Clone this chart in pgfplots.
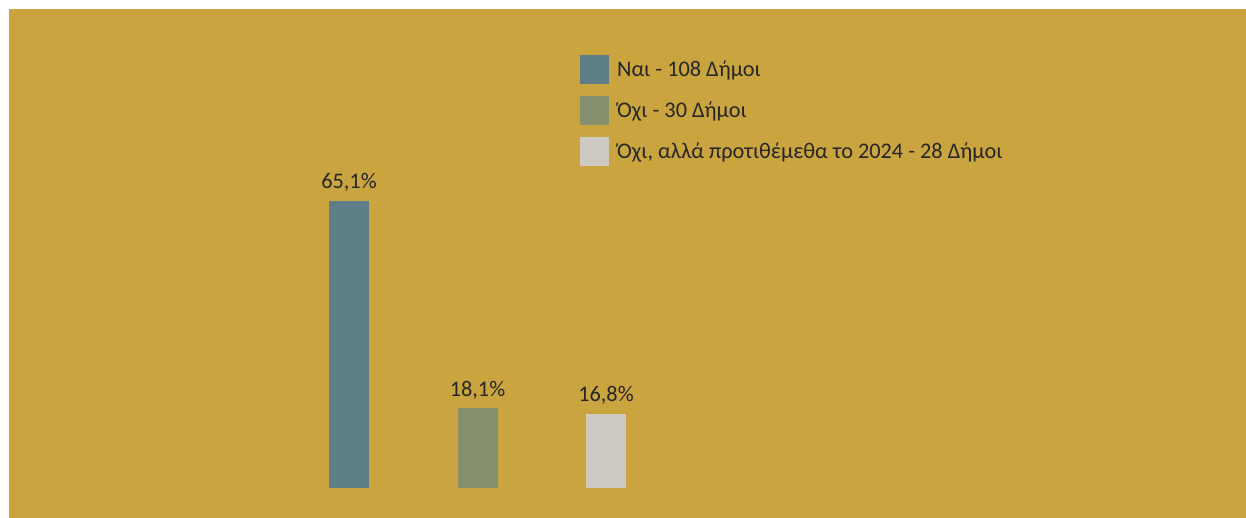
\documentclass[border=0pt]{standalone}
\usepackage{pgfplots}
\pgfplotsset{compat=1.18}
\usepackage{fontspec}
\setmainfont{Carlito}
\definecolor{bg}{HTML}{C9A43F}
\definecolor{cA}{HTML}{5E7E87}
\definecolor{cB}{HTML}{838F6D}
\definecolor{cC}{HTML}{CDCBC1}
\definecolor{tc}{HTML}{262626}
\begin{document}
\begin{tikzpicture}[x=1pt,y=1pt]
\path[use as bounding box, fill=white] (0,0) rectangle (1246,518);
\fill[bg] (9,0) rectangle (1246,509);
\begin{axis}[
  at={(220.5pt,30pt)}, anchor=south west,
  scale only axis, width=514pt, height=441pt,
  xmin=-1, xmax=3, ymin=0, ymax=100,
  hide axis, clip=false,
  ybar, bar width=40pt, bar shift=0pt,
  nodes near coords={\pgfmathprintnumber[fixed, fixed zerofill, precision=1, use comma, assume math mode=true]{\pgfplotspointmeta}\%},
  every node near coord/.append style={anchor=base, yshift=12pt, font=\fontsize{22.3}{26}\selectfont, text=tc, inner sep=0pt},
  legend style={at={(0.6994,0.9819)}, anchor=north west, draw=none, fill=none, inner sep=0pt,
    row sep=12pt, column sep=8pt, font=\fontsize{22.3}{26}\selectfont, text=tc,
    nodes={inner sep=0pt, anchor=west}},
  legend cell align=left,
]
\addplot[fill=cA, draw=none, legend image code/.code={\fill[cA] (0pt,-14.5pt) rectangle (29pt,14.5pt);}] coordinates {(0,65.1)};
\addlegendentry{Ναι - 108 Δήμοι}
\addplot[fill=cB, draw=none, legend image code/.code={\fill[cB] (0pt,-14.5pt) rectangle (29pt,14.5pt);}] coordinates {(1,18.1)};
\addlegendentry{Όχι - 30 Δήμοι}
\addplot[fill=cC, draw=none, legend image code/.code={\fill[cC] (0pt,-14.5pt) rectangle (29pt,14.5pt);}] coordinates {(2,16.8)};
\addlegendentry{Όχι, αλλά προτιθέμεθα το 2024 - 28 Δήμοι}
\end{axis}
\end{tikzpicture}
\end{document}
